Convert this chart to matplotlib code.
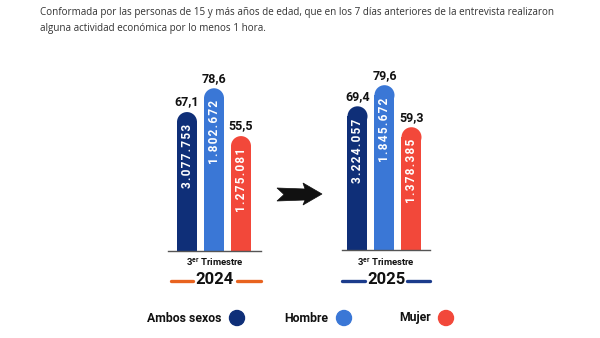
import matplotlib
matplotlib.use("Agg")
import matplotlib.pyplot as plt
from matplotlib.patches import Ellipse, Polygon
from matplotlib.lines import Line2D

plt.rcParams['font.family'] = ['Open Sans', 'DejaVu Sans']
plt.rcParams['mathtext.fontset'] = 'custom'
plt.rcParams['mathtext.bf'] = 'Roboto:bold'
plt.rcParams['mathtext.rm'] = 'Roboto'
BOLD = ['Roboto', 'DejaVu Sans']

# ---- data ----
categories = ["Ambos sexos", "Hombre", "Mujer"]
years = ["2024", "2025"]
pct_2024 = [67.1, 78.6, 55.5]
pct_2025 = [69.4, 79.6, 59.3]
count_2024 = ["3.077.753", "1.802.672", "1.275.081"]
count_2025 = ["3.224.057", "1.845.672", "1.378.385"]
colors = ["#0f2f78", "#3a77d6", "#f2483a"]
year_line_colors = ["#e8631f", "#1c3c8c"]
subtitle = ("Conformada por las personas de 15 y más años de edad, que en los 7 días anteriores de la entrevista realizaron\n"
            "alguna actividad económica por lo menos 1 hora.")

W, H = 600, 338
fig = plt.figure(figsize=(6, 3.38), dpi=100)
fig.patch.set_facecolor("white")

def fx(x): return x / W
def fy(y): return 1 - y / H

lines = subtitle.split("\n")
fig.text(fx(40), fy(13), lines[0], fontsize=7.1, color="#333333", va="center", ha="left")
fig.text(fx(40), fy(29), lines[1], fontsize=7.1, color="#333333", va="center", ha="left")

YMAX = 85
panels = [
    (168, 261, 251, 187, pct_2024, count_2024),
    (342, 430, 250, 357.5, pct_2025, count_2025),
]
spacing = 27
bw_px = 20
axh_px = 176

for i, (lpx, rpx, base, c0, pcts, counts) in enumerate(panels):
    ax = fig.add_axes([fx(lpx), fy(base), (rpx - lpx) / W, axh_px / H])
    x0 = -(c0 - lpx) / spacing
    x1 = 2 + (rpx - (c0 + 2 * spacing)) / spacing
    ax.set_xlim(x0, x1)
    ax.set_ylim(0, YMAX)
    ax.axis("off")
    ax.axhline(0, color="#555555", lw=1.0, clip_on=False)
    bw = bw_px / spacing
    ppu = axh_px / YMAX
    cap = (bw_px / 2) / ppu
    xs = range(len(categories))
    ax.bar(list(xs), [p - cap for p in pcts], width=bw, color=colors, linewidth=0)
    for x, p, c, cnt in zip(xs, pcts, colors, counts):
        ax.add_patch(Ellipse((x, p - cap), bw, 2 * cap, color=c, lw=0))
        ax.text(x, p + 10 / ppu, f"{p:.1f}".replace(".", ","), ha="center", va="center",
                fontsize=9, fontweight="bold", color="#111111", family=BOLD)
        spaced = "\u200a".join(cnt)
        ax.text(x, p - 12 / ppu, spaced, rotation=90, ha="center", va="top",
                fontsize=8.5, fontweight="bold", color="white", family=BOLD)
    cx = (lpx + rpx) / 2
    fig.text(fx(cx), fy(262), r"3$^{\mathbf{er}}$ Trimestre", ha="center", va="center",
             fontsize=6.8, fontweight="bold", color="#111111", family=BOLD)
    fig.text(fx(cx), fy(280), years[i], ha="center", va="center",
             fontsize=12, fontweight="bold", color="#111111", family=BOLD)
    lc = year_line_colors[i]
    half = 22 if i == 0 else 21
    for a, b in [(lpx + 3 - (0 if i == 0 else 3), cx - half), (cx + half, rpx)]:
        fig.add_artist(Line2D([fx(a), fx(b)], [fy(281), fy(281)], color=lc, lw=2.4,
                              solid_capstyle="round"))

# arrow
arrow_px = [(277, 188), (305, 189), (303, 183), (322, 194), (303, 205), (305, 200), (277, 201), (284, 194.5)]
fig.add_artist(Polygon([(fx(a), fy(b)) for a, b in arrow_px], closed=True,
                       facecolor="#111111", edgecolor="#111111", lw=0.5,
                       transform=fig.transFigure))

# legend
leg = [(184.5, 237), (306.5, 344), (415, 446)]
for (tx, cxp), name, c in zip(leg, categories, colors):
    fig.text(fx(tx), fy(318), name, ha="center", va="center", fontsize=8.8,
             fontweight="bold", color="#111111", family=BOLD)
    fig.add_artist(Ellipse((fx(cxp), fy(318)), 15 / W, 15 / H, color=c,
                           transform=fig.transFigure))

fig.savefig("out.png", dpi=100, facecolor="white")
